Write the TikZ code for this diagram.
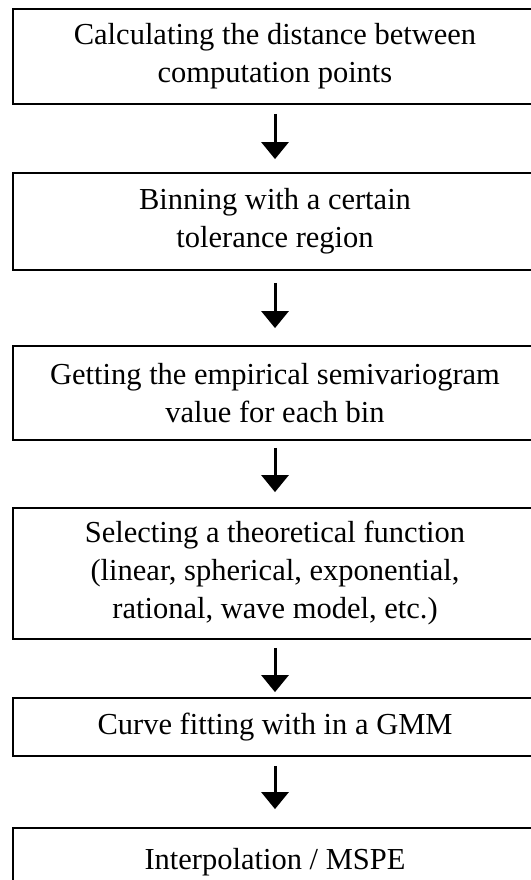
\documentclass[tikz,border=0pt]{standalone}
\usepackage{fontspec}
\setmainfont{Liberation Serif}
\usetikzlibrary{arrows.meta}

\begin{document}
\begin{tikzpicture}[x=1pt,y=-1pt,
  stepbox/.style={draw,line width=1.8pt,align=center,minimum width=524pt,
    inner sep=0pt,font=\fontsize{30.5}{38}\selectfont},
  flow/.style={line width=3pt,-{Triangle[width=27pt,length=17pt]}}]
\useasboundingbox (0,0) rectangle (530,880);

\node[stepbox,minimum height=95pt] (dist) at (275,56.5) {Calculating the distance between\\computation points};
\node[stepbox,minimum height=97pt] (bin) at (275,221.5) {Binning with a certain\\tolerance region};
\node[stepbox,minimum height=94pt] (emp) at (275,393) {Getting the empirical semivariogram\\value for each bin};
\node[stepbox,minimum height=131pt] (theo) at (275,573.5) {Selecting a theoretical function\\(linear, spherical, exponential,\\rational, wave model, etc.)};
\node[stepbox,minimum height=58pt] (fit) at (275,727) {Curve fitting with in a GMM};
\node[stepbox,minimum height=68pt] (interp) at (275,862) {Interpolation / MSPE};

\draw[flow,shorten <=9pt,shorten >=13pt] (dist) -- (bin);
\draw[flow,shorten <=12pt,shorten >=17pt] (bin) -- (emp);
\draw[flow,shorten <=7pt,shorten >=15pt] (emp) -- (theo);
\draw[flow,shorten <=8pt,shorten >=5pt] (theo) -- (fit);
\draw[flow,shorten <=9pt,shorten >=18pt] (fit) -- (interp);
\end{tikzpicture}
\end{document}
